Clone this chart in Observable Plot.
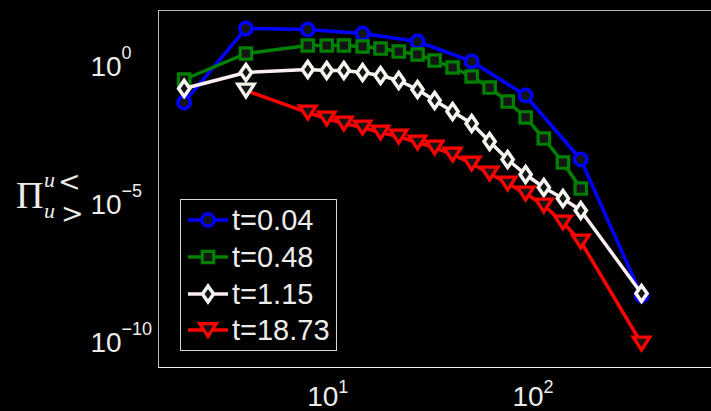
<!DOCTYPE html>
<html>
<head>
<meta charset="utf-8">
<script src="https://cdn.jsdelivr.net/npm/d3@7"></script>
<script src="https://cdn.jsdelivr.net/npm/@observablehq/plot@0.6"></script>
<style>
  html, body { margin: 0; padding: 0; background: #000; }
  #chart { position: relative; width: 711px; height: 411px; overflow: hidden; }
  #chart svg { display: block; }
  #overlay { position: absolute; left: 0; top: 0; pointer-events: none; }
</style>
</head>
<body>
<div id="chart"></div>
<script>
// Wavenumbers of the shells (log-spaced)
const kBlue  = [2, 4, 8, 14.8, 27.4, 50.3, 92.1, 171, 338];
const kGreen = [2, 4, 8, 9.9, 12, 14.8, 18.1, 22.2, 27.4, 33.2, 40.6, 50.3, 61.5, 75.3, 92.1, 113, 140, 171];
const kWhite = [2, 4, 8, 9.9, 12, 14.8, 18.1, 22.2, 27.4, 33.2, 40.6, 50.3, 61.5, 75.3, 92.1, 113, 140, 171, 338];
const kRed   = [4, 8, 9.9, 12, 14.8, 18.1, 22.2, 27.4, 33.2, 40.6, 50.3, 61.5, 75.3, 92.1, 113, 140, 171, 338];

// Energy flux values, one array per time
const piT004 = [3.56e-2, 17.1, 15.7, 11.2, 5.76, 1.09, 6.37e-2, 3.06e-4, 3.61e-9];
const piT048 = [0.242, 2.12, 4.13, 4.13, 4.13, 3.80, 3.21, 2.50, 1.95, 1.18, 0.659, 0.311, 0.124,
                3.86e-2, 1.02e-2, 1.76e-3, 2.38e-4, 2.72e-5];
const piT115 = [0.114, 0.434, 0.558, 0.513, 0.513, 0.434, 0.338, 0.223, 0.105, 4.2e-2, 1.68e-2,
                6.17e-3, 1.37e-3, 3.06e-4, 8.75e-5, 2.96e-5, 1.18e-5, 4.35e-6, 4.27e-9];
const piT1873 = [9.68e-2, 1.54e-2, 9.36e-3, 6.17e-3, 4.42e-3, 2.91e-3, 2.08e-3, 1.26e-3, 8.32e-4,
                 4.64e-4, 2.19e-4, 9.51e-5, 4.13e-5, 1.79e-5, 6.59e-6, 1.60e-6, 3.27e-7, 6.59e-11];

const seriesLabels = ["t=0.04", "t=0.48", "t=1.15", "t=18.73"];

// Axis ticks
const xTicks = [10, 100];
const xTickExp = ["1", "2"];
const yTicks = [1, 1e-5, 1e-10];
const yTickExp = ["0", "\u22125", "\u221210"];

// Marker shapes (size is the symbol area, r the equivalent radius)
const radius = s => Math.sqrt(s / Math.PI);
const symbols = {
  circle: {draw(c, s) { const r = radius(s) * 0.95; c.moveTo(r, 0); c.arc(0, 0, r, 0, 2 * Math.PI); c.closePath(); }},
  square: {draw(c, s) { const r = radius(s) * 0.88; c.moveTo(-r, -r); c.lineTo(r, -r); c.lineTo(r, r); c.lineTo(-r, r); c.closePath(); }},
  diamond: {draw(c, s) { const r = radius(s), w = 0.86 * r, h = 1.22 * r; c.moveTo(0, -h); c.lineTo(w, 0); c.lineTo(0, h); c.lineTo(-w, 0); c.closePath(); }},
  triangleDown: {draw(c, s) { const r = radius(s), w = 1.27 * r, h = 0.98 * r; c.moveTo(-w, -h); c.lineTo(w, -h); c.lineTo(0, h); c.closePath(); }}
};

const markerR = 6.5;
const markerFill = "#151515";
const series = [
  {label: seriesLabels[0], k: kBlue,  v: piT004,  line: "#0000ff", marker: "#0000ff", symbol: symbols.circle,       msw: 3.5},
  {label: seriesLabels[1], k: kGreen, v: piT048,  line: "#008000", marker: "#008000", symbol: symbols.square,       msw: 3.2},
  {label: seriesLabels[2], k: kWhite, v: piT115,  line: "#fbeef3", marker: "#f6f6f0", symbol: symbols.diamond,      msw: 3.5},
  {label: seriesLabels[3], k: kRed,   v: piT1873, line: "#ff0000", marker: "#ff0000", symbol: symbols.triangleDown, msw: 3.3, firstMarker: "#f2f2e8"}
];

const xDomain = [1.5, 741];
const yDomain = [8.9e-12, 76.6];
const textColor = "#ececec";
const font = "Liberation Sans, Arial, sans-serif";

const marks = [];
for (const s of series) {
  const rows = s.k.map((k, i) => ({k, v: s.v[i], i}));
  marks.push(Plot.line(rows, {x: "k", y: "v", stroke: s.line, strokeWidth: 3.5}));
  marks.push(Plot.dot(rows, {
    x: "k", y: "v", r: markerR, symbol: s.symbol, fill: markerFill, stroke: s.marker, strokeWidth: s.msw,
    filter: d => !(s.firstMarker && d.i === 0)
  }));
  if (s.firstMarker) {
    marks.push(Plot.dot(rows.slice(0, 1), {x: "k", y: "v", r: markerR, symbol: s.symbol, fill: markerFill, stroke: s.firstMarker, strokeWidth: s.msw}));
  }
}

const chart = Plot.plot({
  width: 711,
  height: 411,
  marginLeft: 158,
  marginRight: 0,
  marginTop: 10,
  marginBottom: 44,
  style: {background: "#000", color: textColor, fontFamily: font, overflow: "visible"},
  x: {type: "log", domain: xDomain, axis: null},
  y: {type: "log", domain: yDomain, axis: null},
  marks: [
    // axes box (left, top, bottom)
    Plot.ruleY([yDomain[1]], {stroke: "#bdbdbd", strokeWidth: 1}),
    Plot.ruleX([xDomain[0]], {stroke: "#bdbdbd", strokeWidth: 1}),
    Plot.ruleY([yDomain[0]], {stroke: "#f4f4f4", strokeWidth: 1}),
    // x tick labels: 10 with a raised exponent
    Plot.text(xTicks, {x: d => d, frameAnchor: "bottom", text: () => "10", textAnchor: "start", lineAnchor: "bottom",
      dx: -20.5, dy: 38.5, fontSize: 28, fill: textColor, fontFamily: font}),
    Plot.text(xTicks, {x: d => d, frameAnchor: "bottom", text: (d, i) => xTickExp[i], textAnchor: "start", lineAnchor: "bottom",
      dx: 10.6, dy: 25, fontSize: 18, fill: textColor, fontFamily: font}),
    // y tick labels
    Plot.text(yTicks, {y: d => d, frameAnchor: "left", text: () => "10", textAnchor: "start", lineAnchor: "bottom",
      dx: -68, dy: 13.5, fontSize: 28, fill: textColor, fontFamily: font}),
    Plot.text(yTicks, {y: d => d, frameAnchor: "left", text: (d, i) => yTickExp[i], textAnchor: "start", lineAnchor: "bottom",
      dx: -36.9, dy: -3.5, fontSize: 18, fill: textColor, fontFamily: font}),
    ...marks
  ]
});

const root = document.getElementById("chart");
root.appendChild(chart);

// Overlay: y-axis symbol and the legend box
const ov = d3.select(root).append("svg")
  .attr("id", "overlay").attr("width", 711).attr("height", 411);

// Π with stacked super/subscripts
const yl = ov.append("g").attr("fill", textColor);
yl.append("text").attr("x", 16).attr("y", 208).attr("font-family", "Liberation Serif, serif").attr("font-size", 38).text("\u03A0");
yl.append("text").attr("x", 44).attr("y", 187).attr("font-family", "Liberation Serif, serif").attr("font-style", "italic").attr("font-size", 22).text("u");
yl.append("text").attr("x", 58).attr("y", 191).attr("font-family", "DejaVu Serif, serif").attr("font-size", 27).text("<");
yl.append("text").attr("x", 44).attr("y", 218).attr("font-family", "Liberation Serif, serif").attr("font-style", "italic").attr("font-size", 22).text("u");
yl.append("text").attr("x", 61).attr("y", 223).attr("font-family", "DejaVu Serif, serif").attr("font-size", 27).text(">");

// Legend
const lg = ov.append("g");
lg.append("rect").attr("x", 180.5).attr("y", 199.5).attr("width", 156).attr("height", 151)
  .attr("fill", "#000").attr("stroke", "#d6d6d6").attr("stroke-width", 1);
const rowY = [220, 257, 294, 330];
series.forEach((s, i) => {
  const y = rowY[i];
  const g = lg.append("g");
  g.append("line").attr("x1", 188).attr("x2", 228).attr("y1", y).attr("y2", y)
    .attr("stroke", s.line).attr("stroke-width", 3.5);
  g.append("path").attr("transform", `translate(208,${y})`)
    .attr("d", d3.symbol(s.symbol, Math.PI * markerR * markerR)())
    .attr("fill", markerFill).attr("stroke", s.marker).attr("stroke-width", s.msw);
  g.append("text").attr("x", 232).attr("y", y + 10).attr("font-family", font).attr("font-size", 29)
    .attr("fill", textColor).text(s.label);
});
</script>
</body>
</html>
